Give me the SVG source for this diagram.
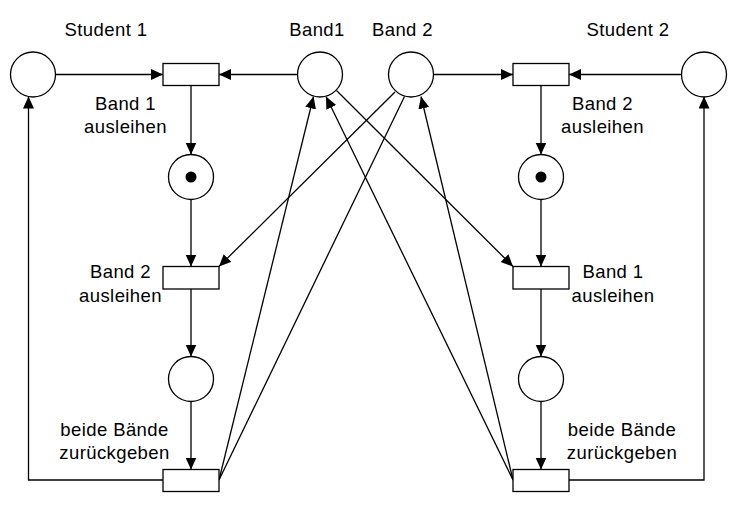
<svg xmlns="http://www.w3.org/2000/svg" width="738" height="509" viewBox="0 0 738 509">
<style>
.pl{fill:#fff;stroke:#000;stroke-width:1.3}
.tr{fill:#fff;stroke:#000;stroke-width:1.3}
.tok{fill:#000}
.ln{fill:none;stroke:#000;stroke-width:1.3}
.ar{marker-end:url(#ah)}
text{font-family:"Liberation Sans",Arial,sans-serif;font-size:18.5px;letter-spacing:0.4px;fill:#000;text-anchor:middle}
</style>
<defs>
<marker id="ah" markerUnits="userSpaceOnUse" markerWidth="13" markerHeight="12" refX="12" refY="5.5" orient="auto">
<path d="M0,0 L12,5.5 L0,11 z" fill="#000"/>
</marker>
</defs>
<rect width="738" height="509" fill="#fff"/>
<g id="connectors">
<line class="ln ar" x1="55.5" y1="74.5" x2="163" y2="74.5"/>
<line class="ln ar" x1="297.5" y1="74.5" x2="219" y2="74.5"/>
<line class="ln ar" x1="191" y1="85.5" x2="191" y2="154.5"/>
<line class="ln ar" x1="191" y1="199.5" x2="191" y2="266.5"/>
<line class="ln ar" x1="191" y1="289" x2="191" y2="356.5"/>
<line class="ln ar" x1="191" y1="401.5" x2="191" y2="469.5"/>
<polyline class="ln ar" points="163,480 28.5,480 28.5,96.5"/>
<line class="ln ar" x1="433.5" y1="74.5" x2="513" y2="74.5"/>
<line class="ln ar" x1="681.5" y1="74.5" x2="569" y2="74.5"/>
<line class="ln ar" x1="541" y1="85.5" x2="541" y2="154.5"/>
<line class="ln ar" x1="541" y1="199.5" x2="541" y2="266.5"/>
<line class="ln ar" x1="541" y1="289" x2="541" y2="356.5"/>
<line class="ln ar" x1="541" y1="401.5" x2="541" y2="469.5"/>
<polyline class="ln ar" points="569,480 704,480 704,96.5"/>
<line class="ln ar" x1="336.5" y1="90.5" x2="513" y2="266.5"/>
<line class="ln ar" x1="395" y1="92" x2="219" y2="266.5"/>
<line class="ln ar" x1="219" y1="480" x2="313.5" y2="96.5"/>
<line class="ln" x1="219" y1="480" x2="404.5" y2="96.5"/>
<line class="ln ar" x1="513" y1="480" x2="326" y2="96.5"/>
<line class="ln ar" x1="513" y1="480" x2="421" y2="96.5"/>
</g>
<g id="student1"><circle class="pl" cx="33" cy="74.5" r="22.5"/><text x="106" y="36">Student 1</text></g>
<g id="band1"><circle class="pl" cx="320" cy="74.5" r="22.5"/><text x="317" y="36">Band1</text></g>
<g id="band2"><circle class="pl" cx="411" cy="74.5" r="22.5"/><text x="402.5" y="36">Band 2</text></g>
<g id="student2"><circle class="pl" cx="704" cy="74.5" r="22.5"/><text x="628" y="36">Student 2</text></g>
<g id="t1"><rect class="tr" x="163" y="63.5" width="56" height="22"/><text x="125.5" y="109.5">Band 1</text><text x="125.5" y="132.5">ausleihen</text></g>
<g id="p1"><circle class="pl" cx="191" cy="177" r="22.5"/><circle class="tok" cx="191" cy="177" r="5.5"/></g>
<g id="t2"><rect class="tr" x="163" y="266.5" width="56" height="22.5"/><text x="120.5" y="278">Band 2</text><text x="120.5" y="301.5">ausleihen</text></g>
<g id="p3"><circle class="pl" cx="191" cy="379" r="22.5"/></g>
<g id="t3"><rect class="tr" x="163" y="469.5" width="56" height="22"/><text x="114.5" y="436">beide Bände</text><text x="114.5" y="459">zurückgeben</text></g>
<g id="t4"><rect class="tr" x="513" y="63.5" width="56" height="22"/><text x="602.5" y="109.5">Band 2</text><text x="602.5" y="132.5">ausleihen</text></g>
<g id="p2"><circle class="pl" cx="541" cy="177" r="22.5"/><circle class="tok" cx="541" cy="177" r="5.5"/></g>
<g id="t5"><rect class="tr" x="513" y="266.5" width="56" height="22.5"/><text x="613" y="278">Band 1</text><text x="613" y="301.5">ausleihen</text></g>
<g id="p4"><circle class="pl" cx="541" cy="379" r="22.5"/></g>
<g id="t6"><rect class="tr" x="513" y="469.5" width="56" height="22"/><text x="622" y="436">beide Bände</text><text x="622" y="459">zurückgeben</text></g>
</svg>
